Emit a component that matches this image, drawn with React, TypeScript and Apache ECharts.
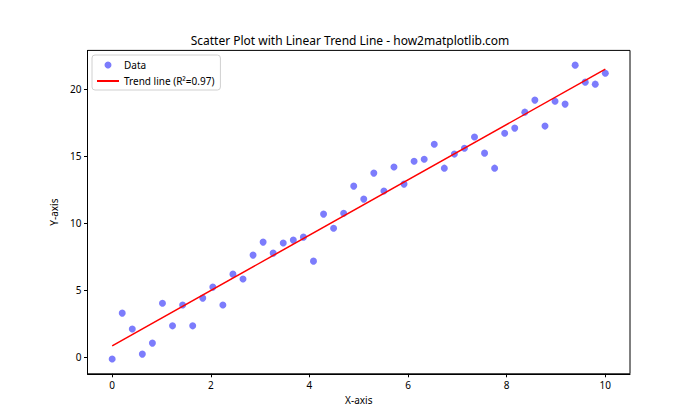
import React, { useEffect, useRef } from "react";
import * as echarts from "echarts";

const xValues = [
  0, 0.204, 0.408, 0.612, 0.816, 1.02, 1.224, 1.429, 1.633, 1.837,
  2.041, 2.245, 2.449, 2.653, 2.857, 3.061, 3.265, 3.469, 3.673, 3.878,
  4.082, 4.286, 4.49, 4.694, 4.898, 5.102, 5.306, 5.51, 5.714, 5.918,
  6.122, 6.327, 6.531, 6.735, 6.939, 7.143, 7.347, 7.551, 7.755, 7.959,
  8.163, 8.367, 8.571, 8.776, 8.98, 9.184, 9.388, 9.592, 9.796, 10,
];
const yValues = [
  -0.17, 3.26, 2.07, 0.2, 1.02, 4.0, 2.31, 3.86, 2.31, 4.38,
  5.2, 3.86, 6.17, 5.8, 7.59, 8.56, 7.74, 8.49, 8.71, 8.93,
  7.14, 10.65, 9.6, 10.72, 12.74, 11.77, 13.71, 12.37, 14.16, 12.89,
  14.6, 14.75, 15.87, 14.08, 15.13, 15.57, 16.4, 15.2, 14.08, 16.69,
  17.07, 18.26, 19.16, 17.22, 19.08, 18.86, 21.77, 20.5, 20.35, 21.17,
];
const trendIntercept = 0.82;
const trendSlope = 2.065;
const trendXRange = [0, 10];
const xTicks = [0, 2, 4, 6, 8, 10];
const yTicks = [0, 5, 10, 15, 20];
const titleText = "Scatter Plot with Linear Trend Line - how2matplotlib.com";
const scatterName = "Data";
const trendName = "Trend line (R²=0.97)";

const FONT = "Noto Sans";

export default function App() {
  const ref = useRef<HTMLDivElement>(null);
  useEffect(() => {
    if (!ref.current) return;
    const chart = echarts.init(ref.current, null, { renderer: "svg" });
    const scatterData = xValues.map((x, i) => [x, yValues[i]]);
    const trendData = trendXRange.map((x) => [x, trendIntercept + trendSlope * x]);
    chart.setOption({
      animation: false,
      backgroundColor: "#fff",
      textStyle: { fontFamily: FONT },
      title: {
        text: titleText,
        left: "center",
        top: 29,
        textStyle: { fontSize: 12, fontWeight: "normal", color: "#000", fontFamily: FONT },
      },
      legend: {
        orient: "vertical",
        left: 92,
        top: 55,
        backgroundColor: "#fff",
        borderColor: "#d0d0d0",
        borderWidth: 1,
        borderRadius: 3,
        padding: [5, 6, 4, 4],
        itemGap: 6,
        itemWidth: 22,
        itemHeight: 7,
        textStyle: { fontSize: 10, color: "#000", fontFamily: FONT },
        data: [
          { name: scatterName, icon: "circle" },
          { name: trendName, itemStyle: { opacity: 0 } },
        ],
      },
      grid: {
        left: 87.5,
        right: 70,
        top: 50.4,
        bottom: 46.2,
        show: true,
        borderColor: "#000",
        borderWidth: 1,
        backgroundColor: "transparent",
      },
      xAxis: {
        type: "value",
        min: -0.5,
        max: 10.5,
        name: "X-axis",
        nameLocation: "middle",
        nameGap: 20,
        nameTextStyle: { fontSize: 10, color: "#000", fontFamily: FONT },
        axisLine: { show: true, onZero: false, lineStyle: { color: "#000", width: 1 } },
        axisTick: { show: true, length: 3.5, lineStyle: { color: "#000" }, customValues: xTicks },
        axisLabel: { fontSize: 10, color: "#000", margin: 6, customValues: xTicks, fontFamily: FONT },
        splitLine: { show: false },
      },
      yAxis: {
        type: "value",
        min: -1.27,
        max: 22.87,
        name: "Y-axis",
        nameLocation: "middle",
        nameGap: 22,
        nameTextStyle: { fontSize: 10, color: "#000", fontFamily: FONT },
        axisLine: { show: true, onZero: false, lineStyle: { color: "#000", width: 1 } },
        axisTick: { show: true, length: 3.5, lineStyle: { color: "#000" }, customValues: yTicks },
        axisLabel: { fontSize: 10, color: "#000", margin: 6, customValues: yTicks, fontFamily: FONT },
        splitLine: { show: false },
      },
      series: [
        {
          name: scatterName,
          type: "scatter",
          data: scatterData,
          symbol: "circle",
          symbolSize: 7,
          itemStyle: { color: "rgba(0,0,250,0.64)" },
          z: 2,
        },
        {
          name: trendName,
          type: "line",
          data: trendData,
          symbol: "none",
          lineStyle: { color: "#ff0000", width: 1.5 },
          itemStyle: { color: "#ff0000" },
          z: 3,
        },
      ],
    });
    return () => chart.dispose();
  }, []);
  return (
    <div
      ref={ref}
      style={{ position: "fixed", left: 0, top: 0, width: 700, height: 420 }}
    />
  );
}
